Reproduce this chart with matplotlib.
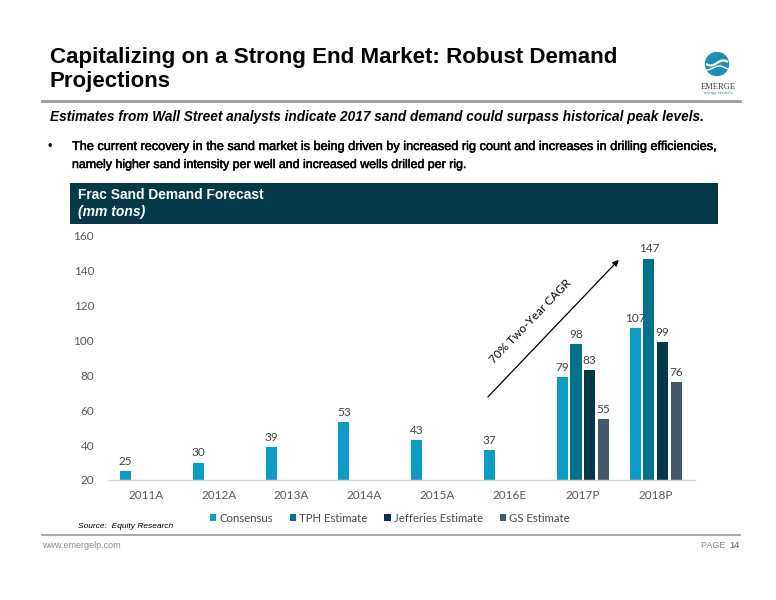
import matplotlib
matplotlib.use("Agg")
import matplotlib.pyplot as plt
import matplotlib.patheffects as pe
import numpy as np
from matplotlib.patches import Rectangle, Circle
from matplotlib.lines import Line2D

# ---------------- data ----------------
categories = ["2011A", "2012A", "2013A", "2014A", "2015A", "2016E", "2017P", "2018P"]
series_names = ["Consensus", "TPH Estimate", "Jefferies Estimate", "GS Estimate"]
consensus = [25, 30, 39, 53, 43, 37, 79, 107]
tph = [np.nan, np.nan, np.nan, np.nan, np.nan, np.nan, 98, 147]
jefferies = [np.nan, np.nan, np.nan, np.nan, np.nan, np.nan, 83, 99]
gs = [np.nan, np.nan, np.nan, np.nan, np.nan, np.nan, 55, 76]
y_ticks = [20, 40, 60, 80, 100, 120, 140, 160]
cagr_label = "70% Two-Year CAGR"

colors = ["#0b9dc9", "#00728d", "#03394a", "#44596a"]

W, H = 776, 600
fig = plt.figure(figsize=(W / 100, H / 100), dpi=100)
fig.patch.set_facecolor("white")
renderer = fig.canvas.get_renderer()


def fx(px):
    return px / W


def fy(py):
    return 1 - py / H


def fit_text(x, y, s, width_px, base=10, **kw):
    t = fig.text(fx(x), fy(y), s, fontsize=base, **kw)
    bb = t.get_window_extent(renderer)
    t.set_fontsize(base * width_px / bb.width)
    return t


SANS = ["Liberation Sans", "DejaVu Sans"]
heavy = [pe.withStroke(linewidth=0.35, foreground="black")]

# ---------------- header ----------------
fit_text(50, 57, "Capitalizing on a Strong End Market: Robust Demand", 570,
         family=SANS, weight="bold", va="center", color="#000000")
fit_text(50, 82, "Projections", 121, family=SANS, weight="bold", va="center", color="#000000")

# logo
ax_logo = fig.add_axes([fx(695), fy(98), fx(46), 46 / H])
ax_logo.set_xlim(0, 46)
ax_logo.set_ylim(0, 46)
ax_logo.axis("off")
ax_logo.add_patch(Circle((22, 34), 11.5, color="#1d8fb3"))
tt = np.linspace(-1, 1, 50)
ax_logo.plot(12 + 10 * (tt + 1), 35 + 2.5 * np.sin(tt * 2.5), color="white", lw=1.6)
ax_logo.plot(12 + 10 * (tt + 1), 30 + 2.0 * np.sin(tt * 2.5 + 1), color="white", lw=1.0)
ax_logo.text(23, 11, "EMERGE", ha="center", va="center", fontsize=6, family="Liberation Serif",
             color="#333333")
ax_logo.text(23, 5, "energy services", ha="center", va="center", fontsize=3, family=SANS,
             color="#1d8fb3")

fig.add_artist(Line2D([fx(42), fx(740)], [fy(101), fy(101)], color="#9a9a9a", lw=2))

fit_text(50, 117, "Estimates from Wall Street analysts indicate 2017 sand demand could surpass historical peak levels.",
         655, family=SANS, weight="bold", style="italic", va="center", color="#000000")

fig.text(fx(48), fy(147), "•", fontsize=9, family=SANS, va="center", color="#000000")
t1 = fit_text(72, 147, "The current recovery in the sand market is being driven by increased rig count and increases in drilling efficiencies,",
              648, family=SANS, va="center", color="#000000")
t2 = fit_text(72, 165, "namely higher sand intensity per well and increased wells drilled per rig.",
              396, family=SANS, va="center", color="#000000")
t1.set_path_effects(heavy)
t2.set_path_effects(heavy)

# dark box
fig.add_artist(Rectangle((fx(70), fy(224)), fx(718) - fx(70), (224 - 183) / H,
                         transform=fig.transFigure, facecolor="#033a4a", edgecolor="none"))
fit_text(78, 195, "Frac Sand Demand Forecast", 185, family=SANS, weight="bold", va="center",
         color="white")
fit_text(78, 212, "(mm tons)", 67, family=SANS, weight="bold", style="italic", va="center",
         color="white")

# ---------------- chart ----------------
ax = fig.add_axes([fx(108), fy(480), fx(695) - fx(108), (480 - 236) / H])
x = np.arange(len(categories))
pitch = 0.187
bw = 0.152
all_series = [consensus, tph, jefferies, gs]
offsets = [-1.5, -0.5, 0.5, 1.5]
CH = ["Lato", "DejaVu Sans"]
for vals, off, c, name in zip(all_series, offsets, colors, series_names):
    v = np.array(vals, dtype=float)
    ax.bar(x + off * pitch, v - 20, bottom=20, width=bw, color=c, label=name)
    for xi, vi in zip(x + off * pitch, v):
        if not np.isnan(vi):
            ax.annotate(f"{vi:.0f}", (xi, vi), xytext=(0, 3), textcoords="offset points",
                        ha="center", va="bottom", fontsize=8.5, color="#404040", family=CH)

ax.set_xlim(-0.52, 7.54)
ax.set_ylim(20, 160)
ax.set_yticks(y_ticks)
ax.set_xticks(x)
ax.set_xticklabels(categories)
for s in ["top", "right", "left"]:
    ax.spines[s].set_visible(False)
ax.spines["bottom"].set_color("#d9d9d9")
ax.spines["bottom"].set_linewidth(1)
ax.tick_params(axis="both", length=0, labelsize=8.5, colors="#595959")
ax.tick_params(axis="y", pad=10)
ax.tick_params(axis="x", pad=7)
for lab in ax.get_xticklabels() + ax.get_yticklabels():
    lab.set_family(CH)
ax.patch.set_alpha(0)

# CAGR arrow
ax.annotate("", xy=(6.52, 147.5), xytext=(4.67, 66.5),
            arrowprops=dict(arrowstyle="-|>", color="black", lw=0.9, mutation_scale=9))
ax.text(5.28, 111, cagr_label, rotation=46, ha="center", va="center", fontsize=8.5,
        family=CH, color="#000000", rotation_mode="anchor")

# legend
handles, labels = ax.get_legend_handles_labels()
fig.legend(handles, labels, loc="center", bbox_to_anchor=(fx(390), fy(518)), ncol=4,
           frameon=False, handlelength=0.55, handleheight=0.55, handletextpad=0.3,
           columnspacing=1.45, prop={"family": CH, "size": 8.2}, labelcolor="#4a4a4a")

# ---------------- footer ----------------
fig.text(fx(78), fy(527), "Source:  Equity Research", fontsize=6, family=SANS, style="italic",
         va="center", color="#000000")
fig.add_artist(Line2D([fx(42), fx(740)], [fy(535), fy(535)], color="#9a9a9a", lw=1.2))
fig.text(fx(42), fy(546), "www.emergelp.com", fontsize=6.5, family=SANS, va="center",
         color="#8c8c8c")
t14 = fig.text(fx(740), fy(546), "14", fontsize=6.5, family=SANS, weight="bold", va="center",
               ha="right", color="#7f7f7f")
bb = t14.get_window_extent(renderer)
fig.text(fx(740) - (bb.width + 2) / W, fy(546), "PAGE ", fontsize=6.5, family=SANS, va="center",
         ha="right", color="#8c8c8c")

fig.savefig("out.png", dpi=100, facecolor="white")
